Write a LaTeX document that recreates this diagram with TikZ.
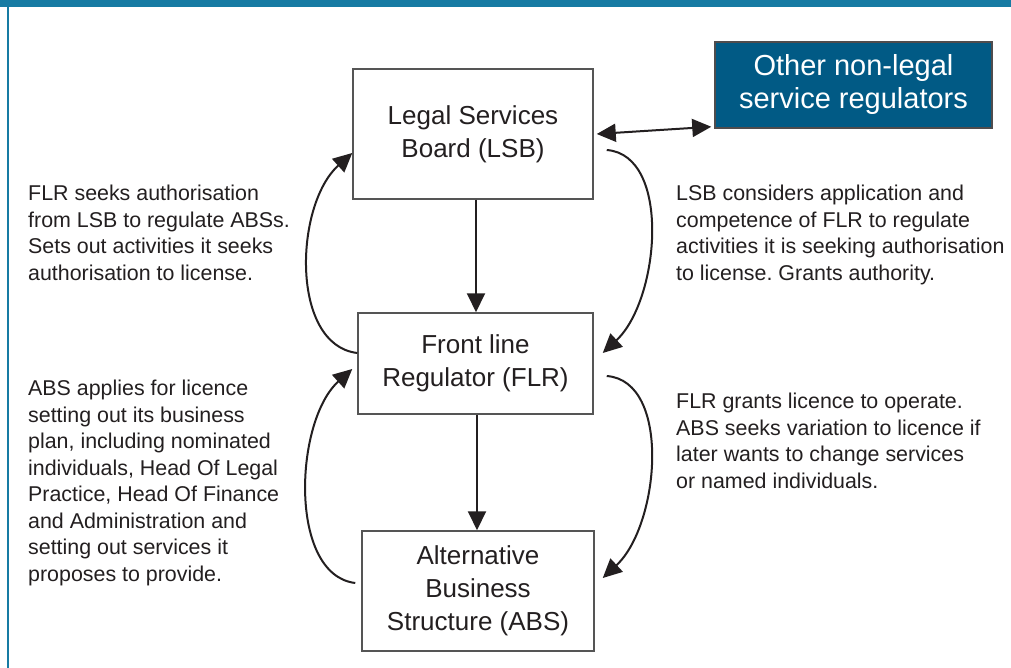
\documentclass[tikz,border=0pt]{standalone}
\usepackage{fontspec}
\setmainfont{Liberation Sans}
\usetikzlibrary{arrows.meta}
\definecolor{topbar}{HTML}{177BA3}
\definecolor{otherblue}{HTML}{015A85}
\definecolor{ink}{HTML}{231F20}
\definecolor{boxline}{HTML}{555555}
\frenchspacing
\begin{document}
\begin{tikzpicture}[x=1pt,y=-1pt,
 box/.style={draw=boxline,line width=1.5pt,fill=white,align=center,inner sep=0pt,text=ink,font=\fontsize{26}{33}\selectfont},
 note/.style={anchor=north west,align=left,inner sep=0pt,font=\fontsize{21.4}{26.5}\selectfont,text=ink},
 arr/.style={draw=ink,line width=2pt,-{Triangle[length=19pt,width=18pt]}},
 dblarr/.style={draw=ink,line width=2pt,{Triangle[length=19pt,width=18pt]}-{Triangle[length=19pt,width=18pt]}},
]
\useasboundingbox (0,0) rectangle (1011,668);
\fill[white] (0,0) rectangle (1011,668);
\fill[topbar] (0,0) rectangle (1011,7.5);
\draw[topbar,line width=2pt] (7.5,7) -- (7.5,668);

\node[box,minimum width=240pt,minimum height=130pt] (lsb) at (473,134) {Legal Services\\Board (LSB)};
\node[box,minimum width=235pt,minimum height=101pt] (flr) at (475.5,363.5) {Front line\\Regulator (FLR)};
\node[box,minimum width=232pt,minimum height=120pt] (abs) at (478,591) {Alternative\\Business\\Structure (ABS)};
\node[draw=ink!80,line width=1.5pt,fill=otherblue,text=white,align=center,inner sep=0pt,
      minimum width=277pt,minimum height=86pt,font=\fontsize{29}{33}\selectfont] (other) at (853.5,85) {Other non-legal\\service regulators};

\draw[arr] ([xshift=3pt]lsb.south) -- ([xshift=3pt]lsb.south |- flr.north);
\draw[arr] ([xshift=1.5pt]flr.south) -- ([xshift=1.5pt]flr.south |- abs.north);
\draw[dblarr] ([xshift=3pt]lsb.east) -- ([shift={(-3pt,2pt)}]other.south west);

\draw[arr] ([yshift=10.5pt]flr.west) .. controls +(-67,-8) and +(-58,52) .. ([yshift=-19pt]lsb.west);
\draw[arr] ([shift={(13pt,-16pt)}]lsb.east) .. controls +(65,5) and +(57,-53) .. ([shift={(9pt,10.5pt)}]flr.east);
\draw[arr] ([shift={(-6pt,8pt)}]abs.west) .. controls +(-67,-8) and +(-58,52) .. ([shift={(-5pt,-5.5pt)}]flr.west);
\draw[arr] ([shift={(13pt,-12.5pt)}]flr.east) .. controls +(65,5) and +(57,-53) .. ([shift={(8pt,13pt)}]abs.east);

\node[note] (t1) at (28,185) {FLR seeks authorisation\\from LSB to regulate ABSs.\\Sets out activities it seeks\\authorisation to license.};
\node[note] (t2) at (676,185) {LSB considers application and\\competence of FLR to regulate\\activities it is seeking authorisation\\to license. Grants authority.};
\node[note] (t3) at (28,380) {ABS applies for licence\\setting out its business\\plan, including nominated\\individuals, Head Of Legal\\Practice, Head Of Finance\\and Administration and\\setting out services it\\proposes to provide.};
\node[note] (t4) at (676,393) {FLR grants licence to operate.\\ABS seeks variation to licence if\\later wants to change services\\or named individuals.};
\end{tikzpicture}
\end{document}
